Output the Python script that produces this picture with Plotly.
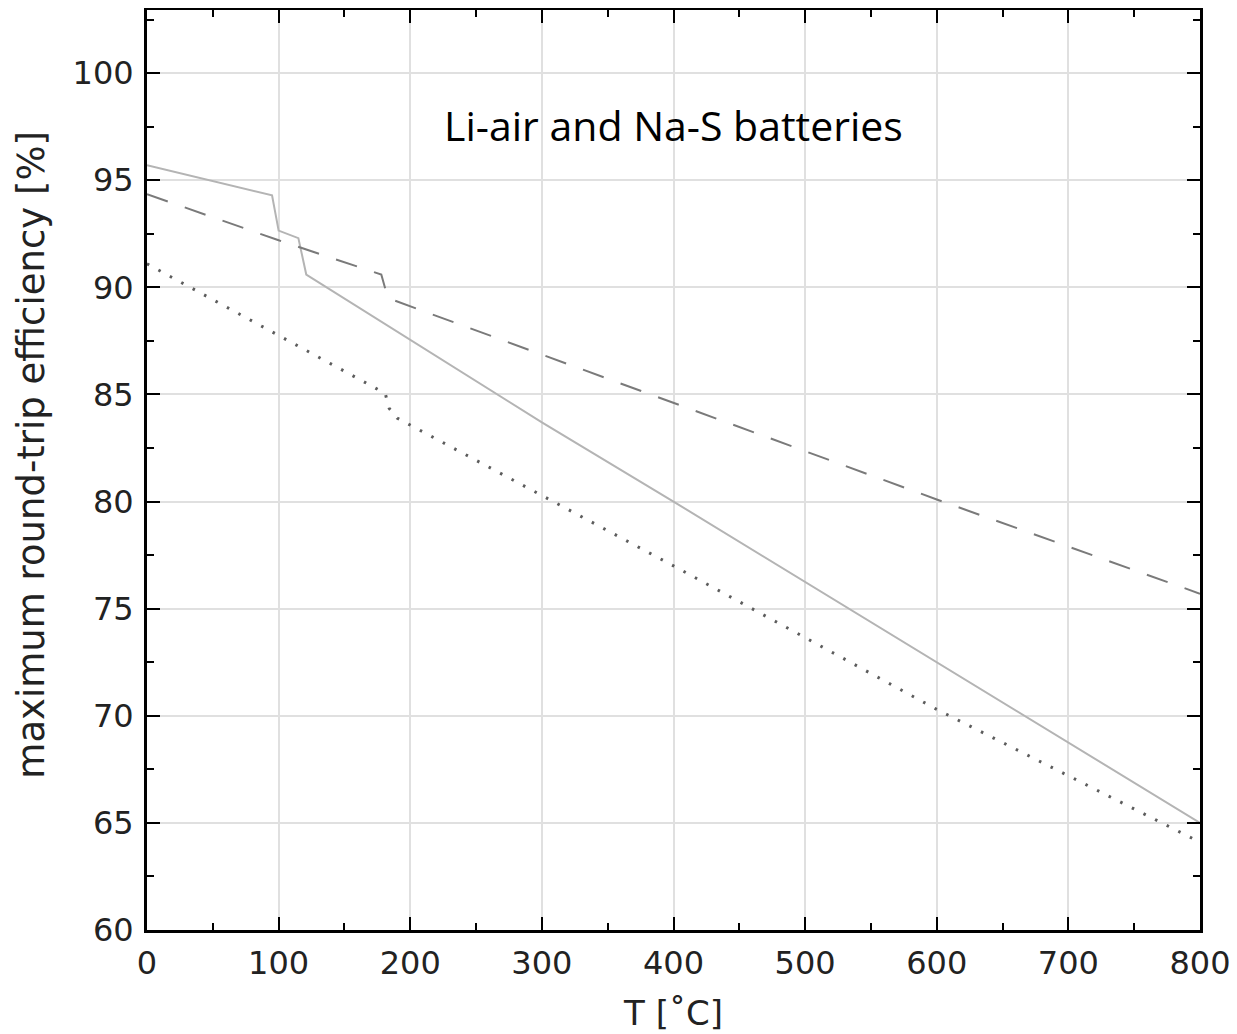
import plotly.graph_objects as go

# Solid line (light gray)
solid_T = [0, 95, 100, 115, 121, 300, 400, 800]
solid_eff = [95.7, 94.3, 92.65, 92.3, 90.6, 83.7, 80.0, 65.0]

# Dashed line
dash_T = [0, 100, 178, 183, 600, 800]
dash_eff = [94.35, 92.2, 90.6, 89.5, 80.1, 75.7]

# Dotted line
dot_T = [0, 96, 181, 184, 190, 400, 600, 800]
dot_eff = [91.1, 87.9, 85.05, 84.35, 83.9, 77.0, 70.3, 64.1]

x_ticks = [0, 100, 200, 300, 400, 500, 600, 700, 800]
y_ticks = [60, 65, 70, 75, 80, 85, 90, 95, 100]

fig = go.Figure()
fig.add_trace(go.Scatter(x=solid_T, y=solid_eff, mode="lines",
                         line=dict(color="#b4b4b4", width=2), showlegend=False))
fig.add_trace(go.Scatter(x=dash_T, y=dash_eff, mode="lines",
                         line=dict(color="#7a7a7a", width=2, dash="22px,18px"), showlegend=False))
fig.add_trace(go.Scatter(x=dot_T, y=dot_eff, mode="lines",
                         line=dict(color="#5c5c5c", width=3, dash="2.5px,10.5px"), showlegend=False))

fig.add_annotation(x=400, y=97.6, text="Li-air and Na-S batteries", showarrow=False,
                   font=dict(family="Open Sans", size=41, color="black"))

fig.add_annotation(xref="paper", x=-0.11, y=82.2, text="maximum round-trip efficiency [%]",
                   showarrow=False, textangle=-90, xanchor="center", yanchor="middle",
                   font=dict(family="DejaVu Sans", size=37, color="#222"))

axis_common = dict(showline=True, linecolor="black", linewidth=3, mirror="ticks",
                   ticks="inside", ticklen=13, tickwidth=2, tickcolor="black",
                   showgrid=True, gridcolor="#e0e0e0", gridwidth=2, zeroline=False,
                   tickfont=dict(family="DejaVu Sans", size=32, color="#222"))

fig.update_xaxes(range=[0, 800], tickvals=x_ticks, ticklabelstandoff=3,
                 title=dict(text="T [˚C]", font=dict(family="DejaVu Sans", size=34, color="#222"), standoff=20),
                 minor=dict(dtick=50, ticks="inside", ticklen=7, tickcolor="black", tickwidth=1.5, showgrid=False),
                 **axis_common)
fig.update_yaxes(range=[60, 102.95], tickvals=y_ticks, ticklabelstandoff=4,
                 minor=dict(dtick=2.5, tick0=60, ticks="inside", ticklen=7, tickcolor="black", tickwidth=1.5, showgrid=False),
                 **axis_common)

fig.update_layout(width=1237, height=1034, margin=dict(l=139, r=45, t=2, b=112, autoexpand=False),
                  plot_bgcolor="white", paper_bgcolor="white")

fig.write_html("out.html")
